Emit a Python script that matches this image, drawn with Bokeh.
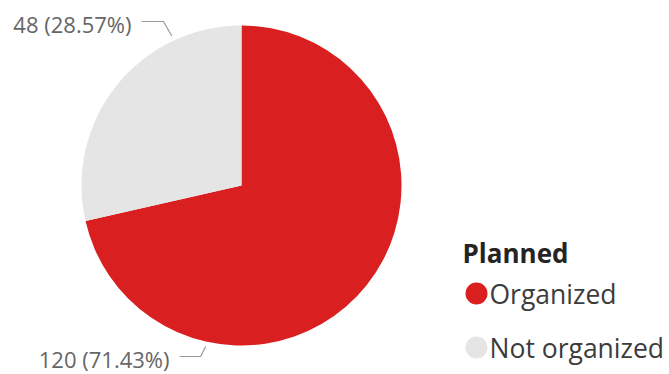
import numpy as np
from bokeh.plotting import figure
from bokeh.models import Range1d
from bokeh.core.properties import value
from bokeh.embed import file_html
from bokeh.resources import INLINE

# ---- data ----
categories = ["Organized", "Not organized"]
counts = [120, 48]
colors = ["#D91F1F", "#E5E5E5"]
legend_title = "Planned"

W, H = 669, 374
p = figure(width=W, height=H, output_backend="svg", toolbar_location=None,
           x_range=Range1d(0, W), y_range=Range1d(0, H), min_border=0,
           outline_line_color=None)
p.axis.visible = False
p.grid.visible = False
p.background_fill_color = "white"
p.border_fill_color = "white"

def Y(y):
    return H - y

cx, cy, r = 241, Y(185), 160
total = float(sum(counts))
fracs = [c / total for c in counts]
# clockwise from 12 o'clock
starts, ends = [], []
acc = 0.0
for f in fracs:
    starts.append(np.pi / 2 - acc * 2 * np.pi)
    acc += f
    ends.append(np.pi / 2 - acc * 2 * np.pi)

p.wedge(x=cx, y=cy, radius=r, start_angle=starts, end_angle=ends,
        direction="clock", fill_color=colors, line_color=None)

# data labels with leader lines
labels = ["%d (%.2f%%)" % (c, f * 100) for c, f in zip(counts, fracs)]
label_layout = {
    "Not organized": dict(ang=335, ex=163, ey=21, lx=141, tx=131, ty=23),
    "Organized": dict(ang=192.5, ex=200, ey=356, lx=179, tx=169, ty=358),
}
for cat, lab in zip(categories, labels):
    L = label_layout[cat]
    a = np.deg2rad(L["ang"])
    px = cx + (r + 5) * np.sin(a)
    py = cy + (r + 5) * np.cos(a)
    p.line(x=[px, L["ex"], L["lx"]], y=[py, Y(L["ey"]), Y(L["ey"])],
           line_color="#9A9A9A", line_width=1.2)
    p.text(x=[L["tx"]], y=[Y(L["ty"])], text=[lab], text_align="right",
           text_baseline="middle", text_font=value("Open Sans"),
           text_font_size="22px", text_color="#666666")

# legend
p.text(x=[462], y=[Y(252)], text=[legend_title], text_align="left",
       text_baseline="middle", text_font=value("Open Sans"),
       text_font_style="bold", text_font_size="26px", text_color="#252423")
leg_y = [Y(293), Y(347)]
p.scatter(x=[476] * len(categories), y=leg_y, size=22, marker="circle",
          fill_color=colors, line_color=None)
p.text(x=[489] * len(categories), y=leg_y, text=categories, text_align="left",
       text_baseline="middle", text_font=value("Open Sans"),
       text_font_size="26.5px", text_color="#3C3C3C")

open("out.html", "w").write(file_html(p, INLINE))
